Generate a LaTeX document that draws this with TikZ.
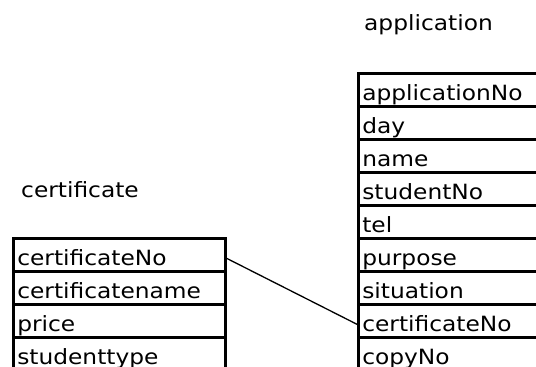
\documentclass[tikz,border=0pt]{standalone}
\usepackage{fontspec}
\newfontfamily\erfont[FakeStretch=1.11]{DejaVu Sans}
\begin{document}
\begin{tikzpicture}[x=1pt,y=-1pt,
  field/.style={draw, line width=2.6pt, anchor=north west, inner xsep=4pt, inner ysep=0pt,
    text height=27pt, text depth=6pt, align=left,
    font=\erfont\fontsize{21}{21}\selectfont},
  leftfield/.style={field, text width=204pt},
  rightfield/.style={field, text width=180pt},
  title/.style={anchor=base west, inner sep=0pt, font=\erfont\fontsize{21}{21}\selectfont},
  link/.style={line width=1.3pt}]
\clip (0,0) rectangle (536,367);
\useasboundingbox (0,0) rectangle (536,367);

% entity titles
\node[title] (apptitle) at (364,30) {application};
\node[title] (certtitle) at (21,197) {certificate};

% application table
\node[rightfield] (a1) at (357,72)  {applicationNo};
\node[rightfield] (a2) at (357,105) {day};
\node[rightfield] (a3) at (357,138) {name};
\node[rightfield] (a4) at (357,171) {studentNo};
\node[rightfield] (a5) at (357,204) {tel};
\node[rightfield] (a6) at (357,237) {purpose};
\node[rightfield] (a7) at (357,270) {situation};
\node[rightfield] (a8) at (357,303) {certificateNo};
\node[rightfield] (a9) at (357,336) {copyNo};

% certificate table
\node[leftfield] (c1) at (12,237) {certificateNo};
\node[leftfield] (c2) at (12,270) {certificatename};
\node[leftfield] (c3) at (12,303) {price};
\node[leftfield] (c4) at (12,336) {studenttype};

% relation between the two certificateNo fields
\draw[link] ([yshift=-3.5pt]c1.east) -- ([yshift=-3.5pt]a8.west);
\end{tikzpicture}
\end{document}
